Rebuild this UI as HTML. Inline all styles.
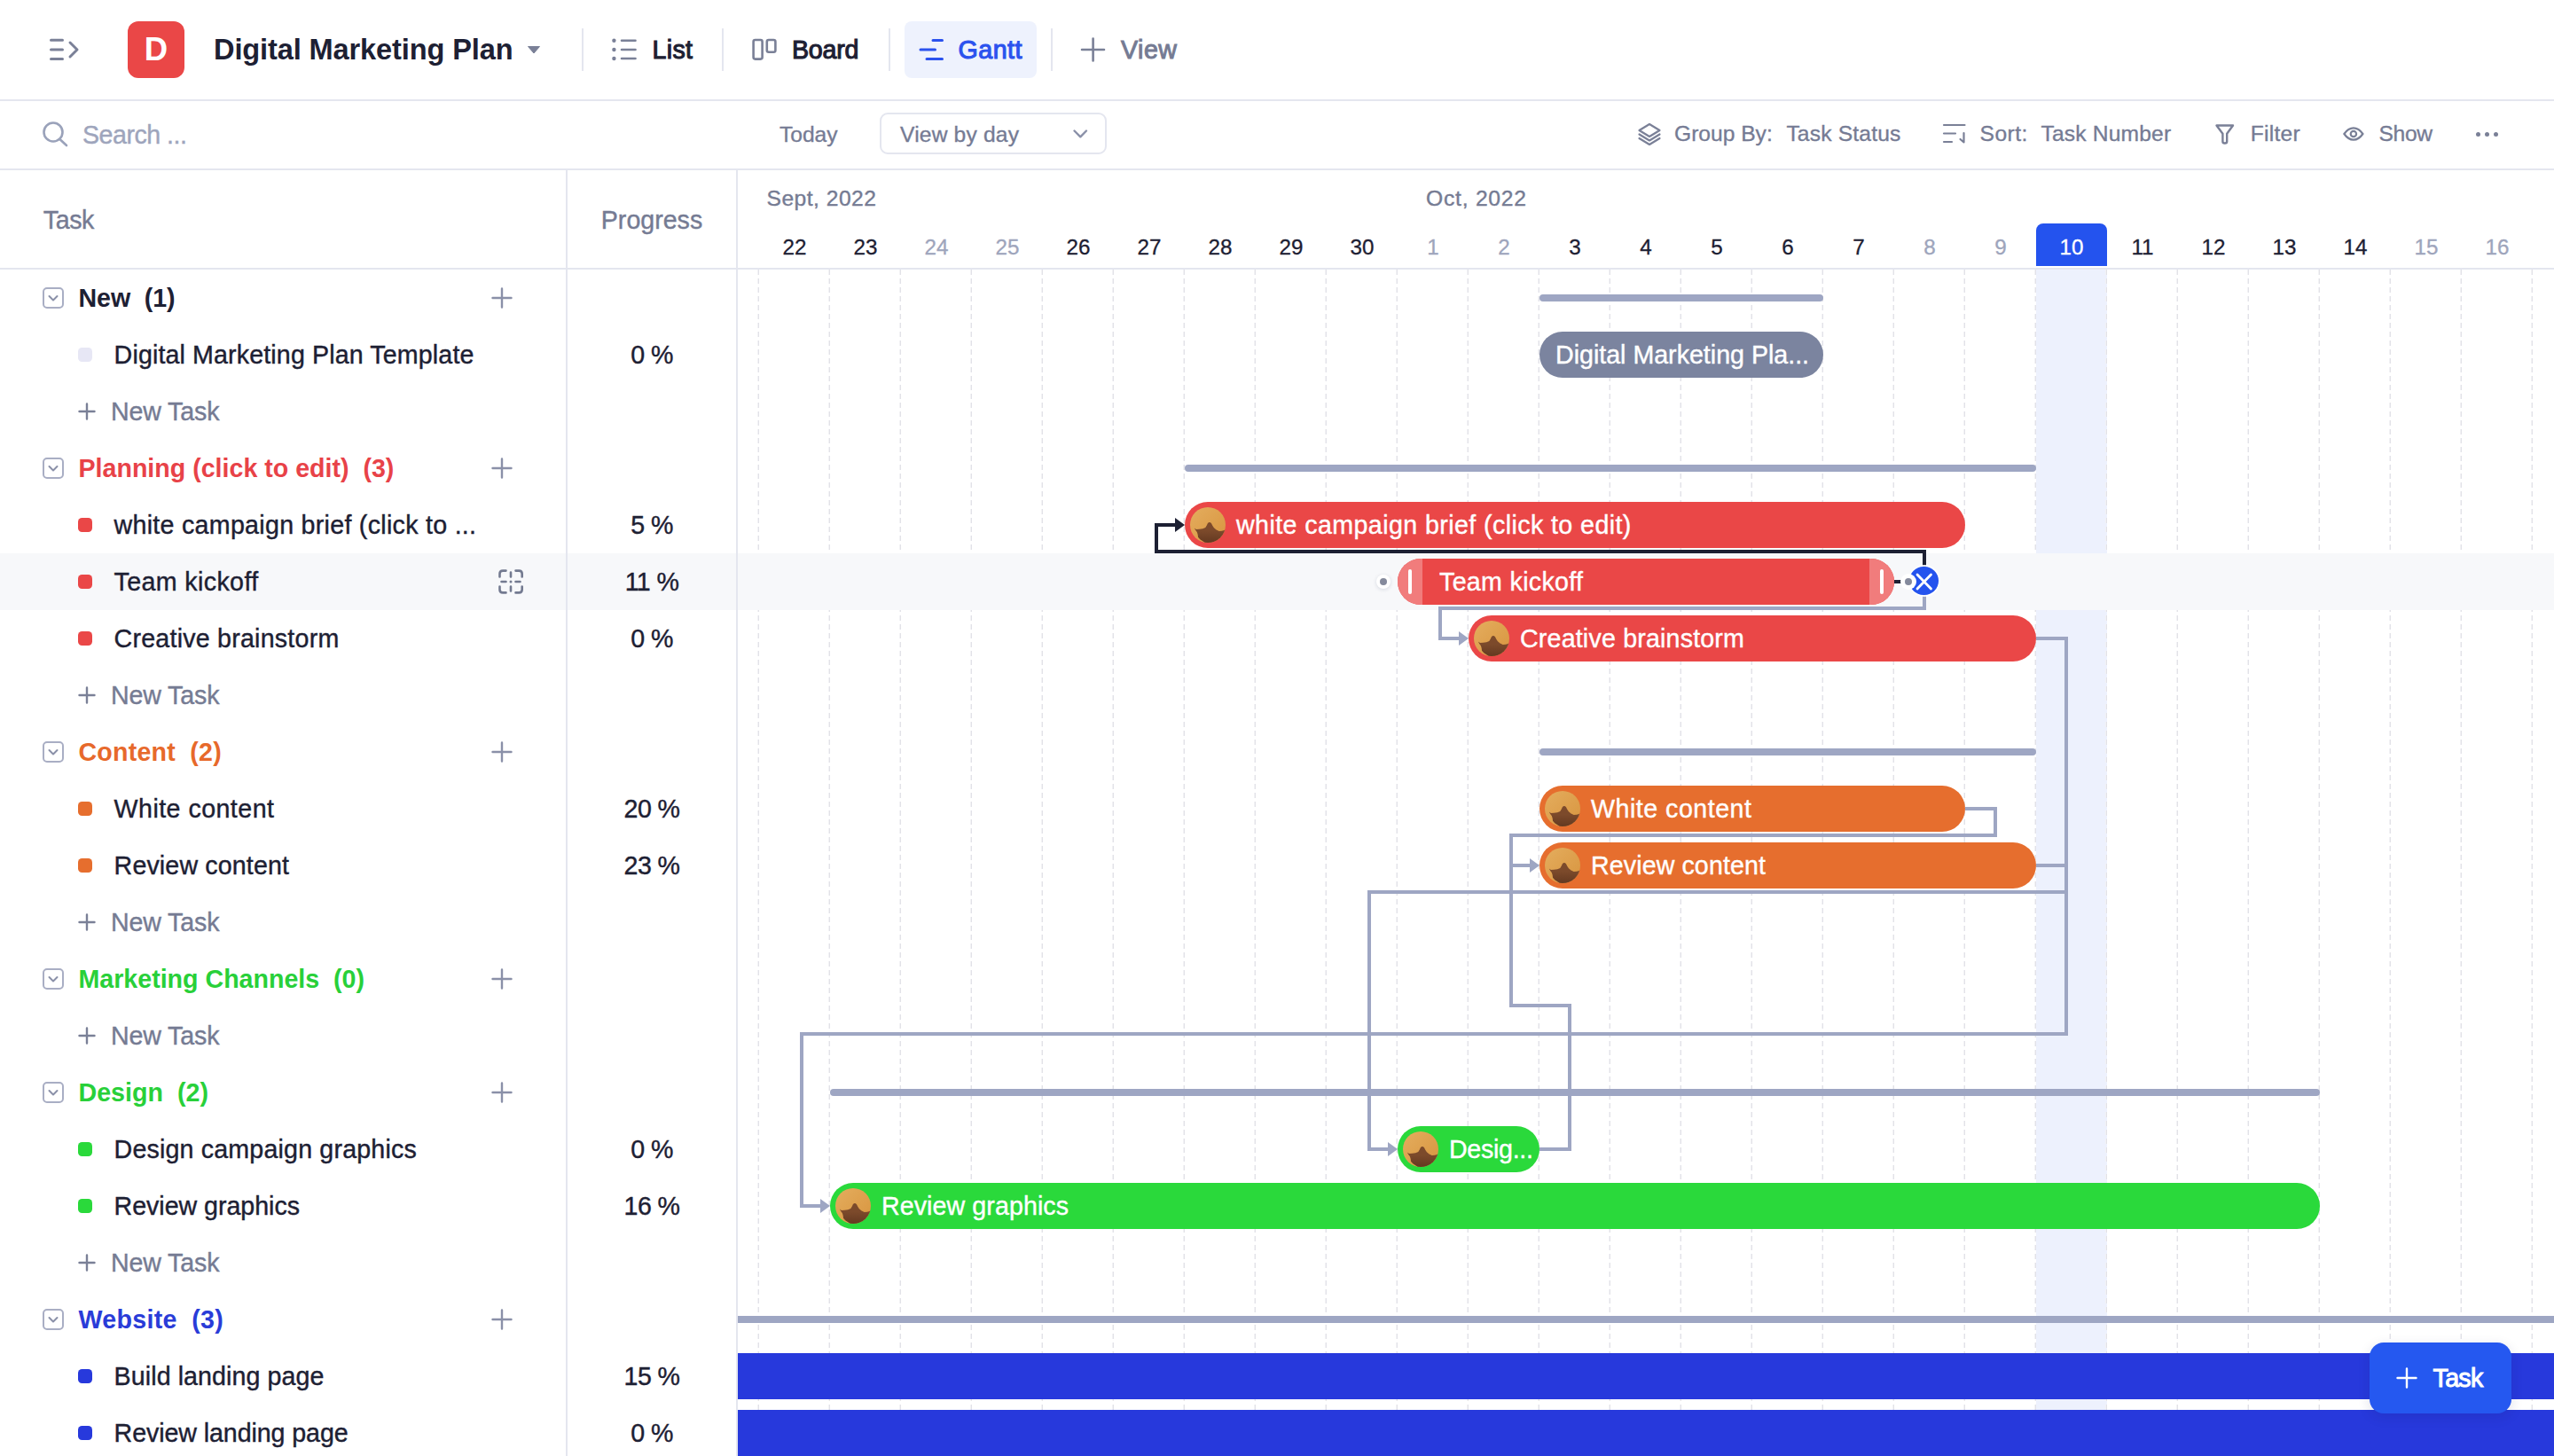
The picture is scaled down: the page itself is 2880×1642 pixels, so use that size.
<!DOCTYPE html>
<html lang="en"><head><meta charset="utf-8"><title>Digital Marketing Plan - Gantt</title>
<style>
html,body{margin:0;padding:0;background:#fff}
body{width:2880px;height:1642px;position:relative;overflow:hidden;font-family:"Liberation Sans",Arial,sans-serif}
.b{position:absolute;display:block}
.t{position:absolute;white-space:nowrap;display:block}
</style></head><body>
<svg width="0" height="0" style="position:absolute"><defs><linearGradient id="ga" x1="0" y1="0" x2="1" y2="1"><stop offset="0" stop-color="#e4ad5e"/><stop offset="1" stop-color="#d8953f"/></linearGradient><linearGradient id="gb" x1="0" y1="0" x2="0" y2="1"><stop offset="0.4" stop-color="#7c4a2b"/><stop offset="1" stop-color="#623820"/></linearGradient></defs></svg>
<!-- grid -->
<div class="b" style="left:2296px;top:304px;width:80px;height:1338px;background:#edf1fd"></div>
<div class="b" style="left:854px;top:304px;width:2080px;height:1338px;background:repeating-linear-gradient(to bottom,#f2f2f5 0,#f2f2f5 6px,transparent 6px,transparent 10px);-webkit-mask:repeating-linear-gradient(to right,#000 0,#000 1px,transparent 1px,transparent 80px);mask:repeating-linear-gradient(to right,#000 0,#000 1px,transparent 1px,transparent 80px)"></div>
<div class="b" style="left:855px;top:304px;width:2080px;height:1338px;background:repeating-linear-gradient(to bottom,#e2e2e8 0,#e2e2e8 6px,transparent 6px,transparent 10px);-webkit-mask:repeating-linear-gradient(to right,#000 0,#000 1px,transparent 1px,transparent 80px);mask:repeating-linear-gradient(to right,#000 0,#000 1px,transparent 1px,transparent 80px)"></div>
<div class="b" style="left:0px;top:624px;width:2880px;height:64px;background:#f7f8fa"></div>
<div class="b" style="left:638px;top:624px;width:2px;height:64px;background:#e4e6ef"></div>
<div class="b" style="left:830px;top:624px;width:2px;height:64px;background:#e4e6ef"></div>
<div class="b" style="left:2296px;top:252px;width:80px;height:48px;background:#2453ee;border-radius:8px 8px 0 0"></div>
<span id="t20" class="t" style="left:896px;top:262.8px;font-size:24.2px;line-height:32.2px;color:#1d2033;font-weight:400;transform:translateX(-50%);-webkit-text-stroke:0.3px #1d2033;">22</span>
<span id="t21" class="t" style="left:976px;top:262.8px;font-size:24.2px;line-height:32.2px;color:#1d2033;font-weight:400;transform:translateX(-50%);-webkit-text-stroke:0.3px #1d2033;">23</span>
<span id="t22" class="t" style="left:1056px;top:262.8px;font-size:24.2px;line-height:32.2px;color:#9ea5bc;font-weight:400;transform:translateX(-50%);-webkit-text-stroke:0.3px #9ea5bc;">24</span>
<span id="t23" class="t" style="left:1136px;top:262.8px;font-size:24.2px;line-height:32.2px;color:#9ea5bc;font-weight:400;transform:translateX(-50%);-webkit-text-stroke:0.3px #9ea5bc;">25</span>
<span id="t24" class="t" style="left:1216px;top:262.8px;font-size:24.2px;line-height:32.2px;color:#1d2033;font-weight:400;transform:translateX(-50%);-webkit-text-stroke:0.3px #1d2033;">26</span>
<span id="t25" class="t" style="left:1296px;top:262.8px;font-size:24.2px;line-height:32.2px;color:#1d2033;font-weight:400;transform:translateX(-50%);-webkit-text-stroke:0.3px #1d2033;">27</span>
<span id="t26" class="t" style="left:1376px;top:262.8px;font-size:24.2px;line-height:32.2px;color:#1d2033;font-weight:400;transform:translateX(-50%);-webkit-text-stroke:0.3px #1d2033;">28</span>
<span id="t27" class="t" style="left:1456px;top:262.8px;font-size:24.2px;line-height:32.2px;color:#1d2033;font-weight:400;transform:translateX(-50%);-webkit-text-stroke:0.3px #1d2033;">29</span>
<span id="t28" class="t" style="left:1536px;top:262.8px;font-size:24.2px;line-height:32.2px;color:#1d2033;font-weight:400;transform:translateX(-50%);-webkit-text-stroke:0.3px #1d2033;">30</span>
<span id="t29" class="t" style="left:1616px;top:262.8px;font-size:24.2px;line-height:32.2px;color:#9ea5bc;font-weight:400;transform:translateX(-50%);-webkit-text-stroke:0.3px #9ea5bc;">1</span>
<span id="t30" class="t" style="left:1696px;top:262.8px;font-size:24.2px;line-height:32.2px;color:#9ea5bc;font-weight:400;transform:translateX(-50%);-webkit-text-stroke:0.3px #9ea5bc;">2</span>
<span id="t31" class="t" style="left:1776px;top:262.8px;font-size:24.2px;line-height:32.2px;color:#1d2033;font-weight:400;transform:translateX(-50%);-webkit-text-stroke:0.3px #1d2033;">3</span>
<span id="t32" class="t" style="left:1856px;top:262.8px;font-size:24.2px;line-height:32.2px;color:#1d2033;font-weight:400;transform:translateX(-50%);-webkit-text-stroke:0.3px #1d2033;">4</span>
<span id="t33" class="t" style="left:1936px;top:262.8px;font-size:24.2px;line-height:32.2px;color:#1d2033;font-weight:400;transform:translateX(-50%);-webkit-text-stroke:0.3px #1d2033;">5</span>
<span id="t34" class="t" style="left:2016px;top:262.8px;font-size:24.2px;line-height:32.2px;color:#1d2033;font-weight:400;transform:translateX(-50%);-webkit-text-stroke:0.3px #1d2033;">6</span>
<span id="t35" class="t" style="left:2096px;top:262.8px;font-size:24.2px;line-height:32.2px;color:#1d2033;font-weight:400;transform:translateX(-50%);-webkit-text-stroke:0.3px #1d2033;">7</span>
<span id="t36" class="t" style="left:2176px;top:262.8px;font-size:24.2px;line-height:32.2px;color:#9ea5bc;font-weight:400;transform:translateX(-50%);-webkit-text-stroke:0.3px #9ea5bc;">8</span>
<span id="t37" class="t" style="left:2256px;top:262.8px;font-size:24.2px;line-height:32.2px;color:#9ea5bc;font-weight:400;transform:translateX(-50%);-webkit-text-stroke:0.3px #9ea5bc;">9</span>
<span id="t38" class="t" style="left:2336px;top:262.8px;font-size:24.2px;line-height:32.2px;color:#fff;font-weight:400;transform:translateX(-50%);-webkit-text-stroke:0.3px #fff;">10</span>
<span id="t39" class="t" style="left:2416px;top:262.8px;font-size:24.2px;line-height:32.2px;color:#1d2033;font-weight:400;transform:translateX(-50%);-webkit-text-stroke:0.3px #1d2033;">11</span>
<span id="t40" class="t" style="left:2496px;top:262.8px;font-size:24.2px;line-height:32.2px;color:#1d2033;font-weight:400;transform:translateX(-50%);-webkit-text-stroke:0.3px #1d2033;">12</span>
<span id="t41" class="t" style="left:2576px;top:262.8px;font-size:24.2px;line-height:32.2px;color:#1d2033;font-weight:400;transform:translateX(-50%);-webkit-text-stroke:0.3px #1d2033;">13</span>
<span id="t42" class="t" style="left:2656px;top:262.8px;font-size:24.2px;line-height:32.2px;color:#1d2033;font-weight:400;transform:translateX(-50%);-webkit-text-stroke:0.3px #1d2033;">14</span>
<span id="t43" class="t" style="left:2736px;top:262.8px;font-size:24.2px;line-height:32.2px;color:#9ea5bc;font-weight:400;transform:translateX(-50%);-webkit-text-stroke:0.3px #9ea5bc;">15</span>
<span id="t44" class="t" style="left:2816px;top:262.8px;font-size:24.2px;line-height:32.2px;color:#9ea5bc;font-weight:400;transform:translateX(-50%);-webkit-text-stroke:0.3px #9ea5bc;">16</span>
<!-- left rows -->
<svg class="b" style="left:47px;top:323px" width="26" height="26" viewBox="0 0 26 26" fill="none" stroke="#a9aec4" stroke-width="2" stroke-linecap="round" stroke-linejoin="round"><rect x="2" y="2" width="22" height="22" rx="4"/><path d="M8.5 11L13 15.5L17.5 11" stroke="#8a90a8"/></svg>
<span id="t45" class="t" style="left:88.5px;top:318.3px;font-size:28.6px;line-height:36.6px;color:#1d2033;font-weight:700;letter-spacing:-0.08px;">New&nbsp;&nbsp;(1)</span>
<svg class="b" style="left:554px;top:324px" width="24" height="24" viewBox="0 0 24 24" fill="none" stroke="#8a90a8" stroke-width="2.4" stroke-linecap="round"><path d="M12 1.5V22.5M1.5 12H22.5"/></svg>
<div class="b" style="left:88px;top:392px;width:16px;height:16px;background:#e7e7f5;border-radius:4.5px"></div>
<span id="t46" class="t" style="left:128.6px;top:382.3px;font-size:28.6px;line-height:36.6px;color:#1d2033;font-weight:400;letter-spacing:0.14px;-webkit-text-stroke:0.4px #1d2033;">Digital Marketing Plan Template</span>
<span id="t47" class="t" style="left:735px;top:382.3px;font-size:28.6px;line-height:36.6px;color:#1d2033;font-weight:400;transform:translateX(-50%);-webkit-text-stroke:0.4px #1d2033;letter-spacing:-0.6px;">0 %</span>
<svg class="b" style="left:88px;top:454px" width="20" height="20" viewBox="0 0 20 20" fill="none" stroke="#7a8097" stroke-width="2.4" stroke-linecap="round"><path d="M10 1.5V18.5M1.5 10H18.5"/></svg>
<span id="t48" class="t" style="left:125px;top:446.3px;font-size:28.6px;line-height:36.6px;color:#757b93;font-weight:400;letter-spacing:-0.13px;-webkit-text-stroke:0.4px #757b93;">New Task</span>
<svg class="b" style="left:47px;top:515px" width="26" height="26" viewBox="0 0 26 26" fill="none" stroke="#a9aec4" stroke-width="2" stroke-linecap="round" stroke-linejoin="round"><rect x="2" y="2" width="22" height="22" rx="4"/><path d="M8.5 11L13 15.5L17.5 11" stroke="#8a90a8"/></svg>
<span id="t49" class="t" style="left:88.5px;top:510.3px;font-size:28.6px;line-height:36.6px;color:#e84248;font-weight:700;">Planning (click to edit)&nbsp;&nbsp;(3)</span>
<svg class="b" style="left:554px;top:516px" width="24" height="24" viewBox="0 0 24 24" fill="none" stroke="#8a90a8" stroke-width="2.4" stroke-linecap="round"><path d="M12 1.5V22.5M1.5 12H22.5"/></svg>
<div class="b" style="left:88px;top:584px;width:16px;height:16px;background:#ea4747;border-radius:4.5px"></div>
<span id="t50" class="t" style="left:128.6px;top:574.3px;font-size:28.6px;line-height:36.6px;color:#1d2033;font-weight:400;letter-spacing:0.29px;-webkit-text-stroke:0.4px #1d2033;">white campaign brief (click to ...</span>
<span id="t51" class="t" style="left:735px;top:574.3px;font-size:28.6px;line-height:36.6px;color:#1d2033;font-weight:400;transform:translateX(-50%);-webkit-text-stroke:0.4px #1d2033;letter-spacing:-0.6px;">5 %</span>
<div class="b" style="left:88px;top:648px;width:16px;height:16px;background:#ea4747;border-radius:4.5px"></div>
<span id="t52" class="t" style="left:128.6px;top:638.3px;font-size:28.6px;line-height:36.6px;color:#1d2033;font-weight:400;letter-spacing:0.38px;-webkit-text-stroke:0.4px #1d2033;">Team kickoff</span>
<span id="t53" class="t" style="left:735px;top:638.3px;font-size:28.6px;line-height:36.6px;color:#1d2033;font-weight:400;transform:translateX(-50%);-webkit-text-stroke:0.4px #1d2033;letter-spacing:-0.6px;">11 %</span>
<div class="b" style="left:88px;top:712px;width:16px;height:16px;background:#ea4747;border-radius:4.5px"></div>
<span id="t54" class="t" style="left:128.6px;top:702.3px;font-size:28.6px;line-height:36.6px;color:#1d2033;font-weight:400;letter-spacing:0.23px;-webkit-text-stroke:0.4px #1d2033;">Creative brainstorm</span>
<span id="t55" class="t" style="left:735px;top:702.3px;font-size:28.6px;line-height:36.6px;color:#1d2033;font-weight:400;transform:translateX(-50%);-webkit-text-stroke:0.4px #1d2033;letter-spacing:-0.6px;">0 %</span>
<svg class="b" style="left:88px;top:774px" width="20" height="20" viewBox="0 0 20 20" fill="none" stroke="#7a8097" stroke-width="2.4" stroke-linecap="round"><path d="M10 1.5V18.5M1.5 10H18.5"/></svg>
<span id="t56" class="t" style="left:125px;top:766.3px;font-size:28.6px;line-height:36.6px;color:#757b93;font-weight:400;letter-spacing:-0.13px;-webkit-text-stroke:0.4px #757b93;">New Task</span>
<svg class="b" style="left:47px;top:835px" width="26" height="26" viewBox="0 0 26 26" fill="none" stroke="#a9aec4" stroke-width="2" stroke-linecap="round" stroke-linejoin="round"><rect x="2" y="2" width="22" height="22" rx="4"/><path d="M8.5 11L13 15.5L17.5 11" stroke="#8a90a8"/></svg>
<span id="t57" class="t" style="left:88.5px;top:830.3px;font-size:28.6px;line-height:36.6px;color:#e7692b;font-weight:700;letter-spacing:0.22px;">Content&nbsp;&nbsp;(2)</span>
<svg class="b" style="left:554px;top:836px" width="24" height="24" viewBox="0 0 24 24" fill="none" stroke="#8a90a8" stroke-width="2.4" stroke-linecap="round"><path d="M12 1.5V22.5M1.5 12H22.5"/></svg>
<div class="b" style="left:88px;top:904px;width:16px;height:16px;background:#e66e2e;border-radius:4.5px"></div>
<span id="t58" class="t" style="left:128.6px;top:894.3px;font-size:28.6px;line-height:36.6px;color:#1d2033;font-weight:400;letter-spacing:0.46px;-webkit-text-stroke:0.4px #1d2033;">White content</span>
<span id="t59" class="t" style="left:735px;top:894.3px;font-size:28.6px;line-height:36.6px;color:#1d2033;font-weight:400;transform:translateX(-50%);-webkit-text-stroke:0.4px #1d2033;letter-spacing:-0.6px;">20 %</span>
<div class="b" style="left:88px;top:968px;width:16px;height:16px;background:#e66e2e;border-radius:4.5px"></div>
<span id="t60" class="t" style="left:128.6px;top:958.3px;font-size:28.6px;line-height:36.6px;color:#1d2033;font-weight:400;letter-spacing:0.14px;-webkit-text-stroke:0.4px #1d2033;">Review content</span>
<span id="t61" class="t" style="left:735px;top:958.3px;font-size:28.6px;line-height:36.6px;color:#1d2033;font-weight:400;transform:translateX(-50%);-webkit-text-stroke:0.4px #1d2033;letter-spacing:-0.6px;">23 %</span>
<svg class="b" style="left:88px;top:1030px" width="20" height="20" viewBox="0 0 20 20" fill="none" stroke="#7a8097" stroke-width="2.4" stroke-linecap="round"><path d="M10 1.5V18.5M1.5 10H18.5"/></svg>
<span id="t62" class="t" style="left:125px;top:1022.3px;font-size:28.6px;line-height:36.6px;color:#757b93;font-weight:400;letter-spacing:-0.13px;-webkit-text-stroke:0.4px #757b93;">New Task</span>
<svg class="b" style="left:47px;top:1091px" width="26" height="26" viewBox="0 0 26 26" fill="none" stroke="#a9aec4" stroke-width="2" stroke-linecap="round" stroke-linejoin="round"><rect x="2" y="2" width="22" height="22" rx="4"/><path d="M8.5 11L13 15.5L17.5 11" stroke="#8a90a8"/></svg>
<span id="t63" class="t" style="left:88.5px;top:1086.3px;font-size:28.6px;line-height:36.6px;color:#28d039;font-weight:700;">Marketing Channels&nbsp;&nbsp;(0)</span>
<svg class="b" style="left:554px;top:1092px" width="24" height="24" viewBox="0 0 24 24" fill="none" stroke="#8a90a8" stroke-width="2.4" stroke-linecap="round"><path d="M12 1.5V22.5M1.5 12H22.5"/></svg>
<svg class="b" style="left:88px;top:1158px" width="20" height="20" viewBox="0 0 20 20" fill="none" stroke="#7a8097" stroke-width="2.4" stroke-linecap="round"><path d="M10 1.5V18.5M1.5 10H18.5"/></svg>
<span id="t64" class="t" style="left:125px;top:1150.3px;font-size:28.6px;line-height:36.6px;color:#757b93;font-weight:400;letter-spacing:-0.13px;-webkit-text-stroke:0.4px #757b93;">New Task</span>
<svg class="b" style="left:47px;top:1219px" width="26" height="26" viewBox="0 0 26 26" fill="none" stroke="#a9aec4" stroke-width="2" stroke-linecap="round" stroke-linejoin="round"><rect x="2" y="2" width="22" height="22" rx="4"/><path d="M8.5 11L13 15.5L17.5 11" stroke="#8a90a8"/></svg>
<span id="t65" class="t" style="left:88.5px;top:1214.3px;font-size:28.6px;line-height:36.6px;color:#28d039;font-weight:700;letter-spacing:0.03px;">Design&nbsp;&nbsp;(2)</span>
<svg class="b" style="left:554px;top:1220px" width="24" height="24" viewBox="0 0 24 24" fill="none" stroke="#8a90a8" stroke-width="2.4" stroke-linecap="round"><path d="M12 1.5V22.5M1.5 12H22.5"/></svg>
<div class="b" style="left:88px;top:1288px;width:16px;height:16px;background:#2ad93b;border-radius:4.5px"></div>
<span id="t66" class="t" style="left:128.6px;top:1278.3px;font-size:28.6px;line-height:36.6px;color:#1d2033;font-weight:400;letter-spacing:0.18px;-webkit-text-stroke:0.4px #1d2033;">Design campaign graphics</span>
<span id="t67" class="t" style="left:735px;top:1278.3px;font-size:28.6px;line-height:36.6px;color:#1d2033;font-weight:400;transform:translateX(-50%);-webkit-text-stroke:0.4px #1d2033;letter-spacing:-0.6px;">0 %</span>
<div class="b" style="left:88px;top:1352px;width:16px;height:16px;background:#2ad93b;border-radius:4.5px"></div>
<span id="t68" class="t" style="left:128.6px;top:1342.3px;font-size:28.6px;line-height:36.6px;color:#1d2033;font-weight:400;letter-spacing:-0.03px;-webkit-text-stroke:0.4px #1d2033;">Review graphics</span>
<span id="t69" class="t" style="left:735px;top:1342.3px;font-size:28.6px;line-height:36.6px;color:#1d2033;font-weight:400;transform:translateX(-50%);-webkit-text-stroke:0.4px #1d2033;letter-spacing:-0.6px;">16 %</span>
<svg class="b" style="left:88px;top:1414px" width="20" height="20" viewBox="0 0 20 20" fill="none" stroke="#7a8097" stroke-width="2.4" stroke-linecap="round"><path d="M10 1.5V18.5M1.5 10H18.5"/></svg>
<span id="t70" class="t" style="left:125px;top:1406.3px;font-size:28.6px;line-height:36.6px;color:#757b93;font-weight:400;letter-spacing:-0.13px;-webkit-text-stroke:0.4px #757b93;">New Task</span>
<svg class="b" style="left:47px;top:1475px" width="26" height="26" viewBox="0 0 26 26" fill="none" stroke="#a9aec4" stroke-width="2" stroke-linecap="round" stroke-linejoin="round"><rect x="2" y="2" width="22" height="22" rx="4"/><path d="M8.5 11L13 15.5L17.5 11" stroke="#8a90a8"/></svg>
<span id="t71" class="t" style="left:88.5px;top:1470.3px;font-size:28.6px;line-height:36.6px;color:#2a3cd8;font-weight:700;letter-spacing:0.31px;">Website&nbsp;&nbsp;(3)</span>
<svg class="b" style="left:554px;top:1476px" width="24" height="24" viewBox="0 0 24 24" fill="none" stroke="#8a90a8" stroke-width="2.4" stroke-linecap="round"><path d="M12 1.5V22.5M1.5 12H22.5"/></svg>
<div class="b" style="left:88px;top:1544px;width:16px;height:16px;background:#2739dc;border-radius:4.5px"></div>
<span id="t72" class="t" style="left:128.6px;top:1534.3px;font-size:28.6px;line-height:36.6px;color:#1d2033;font-weight:400;letter-spacing:0.09px;-webkit-text-stroke:0.4px #1d2033;">Build landing page</span>
<span id="t73" class="t" style="left:735px;top:1534.3px;font-size:28.6px;line-height:36.6px;color:#1d2033;font-weight:400;transform:translateX(-50%);-webkit-text-stroke:0.4px #1d2033;letter-spacing:-0.6px;">15 %</span>
<div class="b" style="left:88px;top:1608px;width:16px;height:16px;background:#2739dc;border-radius:4.5px"></div>
<span id="t74" class="t" style="left:128.6px;top:1598.3px;font-size:28.6px;line-height:36.6px;color:#1d2033;font-weight:400;letter-spacing:-0.08px;-webkit-text-stroke:0.4px #1d2033;">Review landing page</span>
<span id="t75" class="t" style="left:735px;top:1598.3px;font-size:28.6px;line-height:36.6px;color:#1d2033;font-weight:400;transform:translateX(-50%);-webkit-text-stroke:0.4px #1d2033;letter-spacing:-0.6px;">0 %</span>
<svg class="b" style="left:560px;top:640px" width="32" height="32" viewBox="560 640 32 32" fill="none" stroke="#737a90" stroke-width="2.6" stroke-linecap="round" stroke-linejoin="round"><path d="M563.5 650.5V647Q563.5 643.6 567 643.6H570.5M581.5 643.6H585.2Q588.7 643.6 588.7 647V650.5M588.7 661.5V665Q588.7 668.4 585.2 668.4H581.5M570.5 668.4H567Q563.5 668.4 563.5 665V661.5M576 645.5V650.5M576 661.5V666.5M565.5 656H570.5M581.5 656H586.5"/><circle cx="576" cy="656" r="1.5" fill="#737a90" stroke="none"/></svg>
<!-- gantt -->
<div class="b" style="left:1736px;top:332px;width:320px;height:8px;background:#9ea6c3;border-radius:4px"></div>
<div class="b" style="left:1336px;top:524px;width:960px;height:8px;background:#9ea6c3;border-radius:4px"></div>
<div class="b" style="left:1736px;top:844px;width:560px;height:8px;background:#9ea6c3;border-radius:4px"></div>
<div class="b" style="left:936px;top:1228px;width:1680px;height:8px;background:#9ea6c3;border-radius:4px"></div>
<div class="b" style="left:832px;top:1484px;width:2048px;height:8px;background:#9ea6c3"></div>
<svg class="b" style="left:832px;top:304px" width="2048" height="1338" viewBox="832 304 2048 1338">
<polyline points="2170,640 2170,622 1304,622 1304,592 1326,592" fill="none" stroke="#1d2033" stroke-width="4" stroke-linejoin="miter"/>
<path d="M1336 592L1325 584V600Z" fill="#1d2033"/>
<polyline points="2170,670 2170,686 1624,686 1624,720 1646,720" fill="none" stroke="#9ea6c3" stroke-width="4" stroke-linejoin="miter"/>
<path d="M1656 720L1645 712V728Z" fill="#9ea6c3"/>
<polyline points="2296,720 2330,720 2330,1166 904,1166 904,1360 926,1360" fill="none" stroke="#9ea6c3" stroke-width="4" stroke-linejoin="miter"/>
<path d="M936 1360L925 1352V1368Z" fill="#9ea6c3"/>
<polyline points="2296,976 2330,976" fill="none" stroke="#9ea6c3" stroke-width="4" stroke-linejoin="miter"/>
<polyline points="2330,1006 1544,1006 1544,1296 1566,1296" fill="none" stroke="#9ea6c3" stroke-width="4" stroke-linejoin="miter"/>
<path d="M1576 1296L1565 1288V1304Z" fill="#9ea6c3"/>
<polyline points="2216,912 2250,912 2250,942 1704,942 1704,976 1726,976" fill="none" stroke="#9ea6c3" stroke-width="4" stroke-linejoin="miter"/>
<path d="M1736 976L1725 968V984Z" fill="#9ea6c3"/>
<polyline points="1736,1296 1770,1296 1770,1134 1704,1134 1704,976" fill="none" stroke="#9ea6c3" stroke-width="4" stroke-linejoin="miter"/>
</svg>
<div class="b" style="left:1736px;top:374px;width:320px;height:52px;background:#7b849f;border-radius:26px"></div>
<span id="t76" class="t" style="left:1754px;top:382.3px;font-size:28.6px;line-height:36.6px;color:#fff;font-weight:400;-webkit-text-stroke:0.4px #fff;">Digital Marketing Pla...</span>
<div class="b" style="left:1336px;top:566px;width:880px;height:52px;background:#ea4747;border-radius:26px"></div>
<svg class="b" style="left:1342px;top:572px" width="40" height="40" viewBox="0 0 40 40"><defs><clipPath id="c1"><circle cx="20" cy="20" r="20"/></clipPath></defs><g clip-path="url(#c1)"><rect width="40" height="40" fill="url(#ga)"/><path d="M4.8 23.5L6.9 25L10.4 24.8L14.2 24.2L17.3 22.9L18.8 20.6L19.8 18.3Q21.9 15.6 24 18.3L25.4 21L26.9 23.3L29.6 25.6L32.7 26.9L35.8 26.7L38.5 26L41 24.5V41H18L15 38.7L11.2 36.3L9 33.7L8.7 31L7.9 28.3L6.2 26Z" fill="url(#gb)"/></g></svg>
<span id="t77" class="t" style="left:1394px;top:574.3px;font-size:28.6px;line-height:36.6px;color:#fff;font-weight:400;letter-spacing:0.42px;-webkit-text-stroke:0.4px #fff;">white campaign brief (click to edit)</span>
<div class="b" style="left:1576px;top:630px;width:560px;height:52px;background:#ea4747;border-radius:26px;overflow:hidden"></div>
<div class="b" style="left:1576px;top:630px;width:28px;height:52px;background:#f17c7c;border-radius:26px 0 0 26px"></div>
<div class="b" style="left:2108px;top:630px;width:28px;height:52px;background:#f17c7c;border-radius:0 26px 26px 0"></div>
<div class="b" style="left:1588px;top:642px;width:4px;height:28px;background:#fff;border-radius:2px"></div>
<div class="b" style="left:2120px;top:642px;width:4px;height:28px;background:#fff;border-radius:2px"></div>
<span id="t78" class="t" style="left:1623px;top:638.3px;font-size:28.6px;line-height:36.6px;color:#fff;font-weight:400;letter-spacing:0.33px;-webkit-text-stroke:0.4px #fff;">Team kickoff</span>
<div class="b" style="left:1552px;top:648px;width:16px;height:16px;background:#fff;border-radius:50%;box-shadow:0 1px 4px rgba(30,40,80,.15)"></div>
<div class="b" style="left:1556px;top:652px;width:8px;height:8px;background:#858a9c;border-radius:50%"></div>
<div class="b" style="left:2136px;top:654px;width:8px;height:4px;background:#1d2033"></div>
<div class="b" style="left:2151.5px;top:637px;width:36px;height:36px;background:#fff;border-radius:50%;opacity:.9"></div>
<div class="b" style="left:2153.2px;top:638.7px;width:32.6px;height:32.6px;background:#2453ee;border-radius:50%"></div>
<div class="b" style="left:2143px;top:647px;width:18px;height:18px;background:#fff;border-radius:50%"></div>
<div class="b" style="left:2148px;top:652px;width:8px;height:8px;background:#858a9c;border-radius:50%"></div>
<svg class="b" style="left:2158px;top:644px" width="24" height="24" viewBox="2158 644 24 24" fill="none" stroke="#fff" stroke-width="2.8" stroke-linecap="round"><path d="M2162 648L2177.5 664M2177.5 648L2162 664"/></svg>
<div class="b" style="left:1656px;top:694px;width:640px;height:52px;background:#ea4747;border-radius:26px"></div>
<svg class="b" style="left:1662px;top:700px" width="40" height="40" viewBox="0 0 40 40"><defs><clipPath id="c2"><circle cx="20" cy="20" r="20"/></clipPath></defs><g clip-path="url(#c2)"><rect width="40" height="40" fill="url(#ga)"/><path d="M4.8 23.5L6.9 25L10.4 24.8L14.2 24.2L17.3 22.9L18.8 20.6L19.8 18.3Q21.9 15.6 24 18.3L25.4 21L26.9 23.3L29.6 25.6L32.7 26.9L35.8 26.7L38.5 26L41 24.5V41H18L15 38.7L11.2 36.3L9 33.7L8.7 31L7.9 28.3L6.2 26Z" fill="url(#gb)"/></g></svg>
<span id="t79" class="t" style="left:1714px;top:702.3px;font-size:28.6px;line-height:36.6px;color:#fff;font-weight:400;letter-spacing:0.19px;-webkit-text-stroke:0.4px #fff;">Creative brainstorm</span>
<div class="b" style="left:1736px;top:886px;width:480px;height:52px;background:#e66e2e;border-radius:26px"></div>
<svg class="b" style="left:1742px;top:892px" width="40" height="40" viewBox="0 0 40 40"><defs><clipPath id="c3"><circle cx="20" cy="20" r="20"/></clipPath></defs><g clip-path="url(#c3)"><rect width="40" height="40" fill="url(#ga)"/><path d="M4.8 23.5L6.9 25L10.4 24.8L14.2 24.2L17.3 22.9L18.8 20.6L19.8 18.3Q21.9 15.6 24 18.3L25.4 21L26.9 23.3L29.6 25.6L32.7 26.9L35.8 26.7L38.5 26L41 24.5V41H18L15 38.7L11.2 36.3L9 33.7L8.7 31L7.9 28.3L6.2 26Z" fill="url(#gb)"/></g></svg>
<span id="t80" class="t" style="left:1794px;top:894.3px;font-size:28.6px;line-height:36.6px;color:#fff;font-weight:400;letter-spacing:0.51px;-webkit-text-stroke:0.4px #fff;">White content</span>
<div class="b" style="left:1736px;top:950px;width:560px;height:52px;background:#e66e2e;border-radius:26px"></div>
<svg class="b" style="left:1742px;top:956px" width="40" height="40" viewBox="0 0 40 40"><defs><clipPath id="c4"><circle cx="20" cy="20" r="20"/></clipPath></defs><g clip-path="url(#c4)"><rect width="40" height="40" fill="url(#ga)"/><path d="M4.8 23.5L6.9 25L10.4 24.8L14.2 24.2L17.3 22.9L18.8 20.6L19.8 18.3Q21.9 15.6 24 18.3L25.4 21L26.9 23.3L29.6 25.6L32.7 26.9L35.8 26.7L38.5 26L41 24.5V41H18L15 38.7L11.2 36.3L9 33.7L8.7 31L7.9 28.3L6.2 26Z" fill="url(#gb)"/></g></svg>
<span id="t81" class="t" style="left:1794px;top:958.3px;font-size:28.6px;line-height:36.6px;color:#fff;font-weight:400;letter-spacing:0.11px;-webkit-text-stroke:0.4px #fff;">Review content</span>
<div class="b" style="left:1576px;top:1270px;width:160px;height:52px;background:#2ad93b;border-radius:26px"></div>
<svg class="b" style="left:1582px;top:1276px" width="40" height="40" viewBox="0 0 40 40"><defs><clipPath id="c5"><circle cx="20" cy="20" r="20"/></clipPath></defs><g clip-path="url(#c5)"><rect width="40" height="40" fill="url(#ga)"/><path d="M4.8 23.5L6.9 25L10.4 24.8L14.2 24.2L17.3 22.9L18.8 20.6L19.8 18.3Q21.9 15.6 24 18.3L25.4 21L26.9 23.3L29.6 25.6L32.7 26.9L35.8 26.7L38.5 26L41 24.5V41H18L15 38.7L11.2 36.3L9 33.7L8.7 31L7.9 28.3L6.2 26Z" fill="url(#gb)"/></g></svg>
<span id="t82" class="t" style="left:1634px;top:1278.3px;font-size:28.6px;line-height:36.6px;color:#fff;font-weight:400;letter-spacing:-0.28px;-webkit-text-stroke:0.4px #fff;">Desig...</span>
<div class="b" style="left:936px;top:1334px;width:1680px;height:52px;background:#2ad93b;border-radius:26px"></div>
<svg class="b" style="left:942px;top:1340px" width="40" height="40" viewBox="0 0 40 40"><defs><clipPath id="c6"><circle cx="20" cy="20" r="20"/></clipPath></defs><g clip-path="url(#c6)"><rect width="40" height="40" fill="url(#ga)"/><path d="M4.8 23.5L6.9 25L10.4 24.8L14.2 24.2L17.3 22.9L18.8 20.6L19.8 18.3Q21.9 15.6 24 18.3L25.4 21L26.9 23.3L29.6 25.6L32.7 26.9L35.8 26.7L38.5 26L41 24.5V41H18L15 38.7L11.2 36.3L9 33.7L8.7 31L7.9 28.3L6.2 26Z" fill="url(#gb)"/></g></svg>
<span id="t83" class="t" style="left:994px;top:1342.3px;font-size:28.6px;line-height:36.6px;color:#fff;font-weight:400;letter-spacing:0.09px;-webkit-text-stroke:0.4px #fff;">Review graphics</span>
<div class="b" style="left:832px;top:1526px;width:2048px;height:52px;background:#2739dc"></div>
<div class="b" style="left:832px;top:1590px;width:2048px;height:52px;background:#2739dc"></div>
<div class="b" style="left:2672px;top:1514px;width:160px;height:80px;background:#2558f0;border-radius:16px;box-shadow:0 4px 14px rgba(20,30,90,.14)"></div>
<svg class="b" style="left:2702px;top:1542px" width="24" height="24" viewBox="0 0 24 24" fill="none" stroke="#fff" stroke-width="2.4" stroke-linecap="round"><path d="M12 1.5V22.5M1.5 12H22.5"/></svg>
<span id="t84" class="t" style="left:2743.5px;top:1536.3px;font-size:28.6px;line-height:36.6px;color:#fff;font-weight:400;letter-spacing:-0.67px;-webkit-text-stroke:1.0px #fff;">Task</span>
<!-- top -->
<div class="b" style="left:0;top:0;width:2880px;height:112px;background:#fff"></div>
<div class="b" style="left:0;top:114px;width:2880px;height:76px;background:#fff"></div>
<div class="b" style="left:0px;top:112px;width:2880px;height:2px;background:#e4e6ef"></div>
<svg class="b" style="left:50px;top:36px" width="44" height="40" viewBox="50 36 44 40" fill="none" stroke="#7a8097" stroke-width="3" stroke-linecap="round" stroke-linejoin="round"><path d="M57.5 45.3H70.5M57.5 56H70.5M57.5 66.6H70.5M79 48L87 56L79 64"/></svg>
<div class="b" style="left:144px;top:24px;width:64px;height:64px;background:#ea4747;border-radius:12px"></div>
<span id="t1" class="t" style="left:176px;top:34.4px;font-size:36.5px;line-height:44.5px;color:#fff;font-weight:700;transform:translateX(-50%);">D</span>
<span id="t2" class="t" style="left:241px;top:36.3px;font-size:32.6px;line-height:40.6px;color:#1d2033;font-weight:700;letter-spacing:-0.13px;">Digital Marketing Plan</span>
<svg class="b" style="left:594px;top:51px" width="16" height="10" viewBox="0 0 16 10"><path d="M1.5 1.5H14.5L8 9Z" fill="#7a8097" stroke="#7a8097" stroke-width="1" stroke-linejoin="round"/></svg>
<div class="b" style="left:656px;top:32px;width:2px;height:48px;background:#e4e6ef"></div>
<div class="b" style="left:814px;top:32px;width:2px;height:48px;background:#e4e6ef"></div>
<div class="b" style="left:1002px;top:32px;width:2px;height:48px;background:#e4e6ef"></div>
<div class="b" style="left:1185px;top:32px;width:2px;height:48px;background:#e4e6ef"></div>
<svg class="b" style="left:686px;top:40px" width="36" height="32" viewBox="686 40 36 32" fill="none" stroke="#7a8097" stroke-width="2.6" stroke-linecap="round"><circle cx="692.4" cy="45.8" r="2.2" fill="#7a8097" stroke="none"/><circle cx="692.4" cy="56" r="2.2" fill="#7a8097" stroke="none"/><circle cx="692.4" cy="66" r="2.2" fill="#7a8097" stroke="none"/><path d="M701 45.8H716.5M701 56H716.5M701 66H716.5"/></svg>
<span id="t3" class="t" style="left:735.5px;top:38.3px;font-size:28.6px;line-height:36.6px;color:#1d2033;font-weight:400;letter-spacing:0.33px;-webkit-text-stroke:1.1px #1d2033;">List</span>
<svg class="b" style="left:844px;top:40px" width="36" height="32" viewBox="844 40 36 32" fill="none" stroke="#7a8097" stroke-width="2.6"><rect x="849.6" y="45" width="10" height="21.6" rx="2"/><rect x="864.8" y="45" width="9.6" height="13.8" rx="2"/></svg>
<span id="t4" class="t" style="left:893px;top:38.3px;font-size:28.6px;line-height:36.6px;color:#1d2033;font-weight:400;letter-spacing:-0.20px;-webkit-text-stroke:1.1px #1d2033;">Board</span>
<div class="b" style="left:1020px;top:24px;width:149px;height:64px;background:#eef2fd;border-radius:8px"></div>
<svg class="b" style="left:1032px;top:40px" width="36" height="32" viewBox="1032 40 36 32" fill="none" stroke="#2b52ee" stroke-width="3" stroke-linecap="round"><path d="M1052 45.5H1062.5M1038 56H1054.5M1045 66.5H1062.5"/></svg>
<span id="t5" class="t" style="left:1080.5px;top:38.3px;font-size:28.6px;line-height:36.6px;color:#2b52ee;font-weight:400;letter-spacing:0.51px;-webkit-text-stroke:1.1px #2b52ee;">Gantt</span>
<svg class="b" style="left:1214px;top:40px" width="36" height="32" viewBox="1214 40 36 32" fill="none" stroke="#7a8097" stroke-width="2.6" stroke-linecap="round"><path d="M1232.6 43.5V68.5M1220 56H1245"/></svg>
<span id="t6" class="t" style="left:1264px;top:38.3px;font-size:28.6px;line-height:36.6px;color:#757b93;font-weight:400;letter-spacing:0.51px;-webkit-text-stroke:1.0px #757b93;">View</span>
<div class="b" style="left:0px;top:190px;width:2880px;height:2px;background:#e4e6ef"></div>
<svg class="b" style="left:44px;top:132px" width="36" height="36" viewBox="44 132 36 36" fill="none" stroke="#9aa2ba" stroke-width="2.6" stroke-linecap="round"><circle cx="60" cy="149" r="10.5"/><path d="M68 157.5L75 164"/></svg>
<span id="t7" class="t" style="left:93px;top:133.8px;font-size:28.6px;line-height:36.6px;color:#9ea5bc;font-weight:400;letter-spacing:-0.49px;-webkit-text-stroke:0.4px #9ea5bc;">Search ...</span>
<span id="t8" class="t" style="left:879px;top:136.1px;font-size:24.6px;line-height:32.6px;color:#757b94;font-weight:400;letter-spacing:-0.01px;-webkit-text-stroke:0.35px #757b94;">Today</span>
<div class="b" style="left:992px;top:127px;width:256px;height:47px;border:2px solid #e4e6ef;border-radius:9px;box-sizing:border-box;background:#fff"></div>
<span id="t9" class="t" style="left:1015px;top:136.1px;font-size:24.6px;line-height:32.6px;color:#757b94;font-weight:400;letter-spacing:0.18px;-webkit-text-stroke:0.35px #757b94;">View by day</span>
<svg class="b" style="left:1206px;top:142px" width="24" height="18" viewBox="1206 142 24 18" fill="none" stroke="#8a90a8" stroke-width="2.4" stroke-linecap="round" stroke-linejoin="round"><path d="M1211.5 147.5L1218.3 154.3L1225 147.5"/></svg>
<svg class="b" style="left:1844px;top:134px" width="32" height="34" viewBox="1844 134 32 34" fill="none" stroke="#7a8097" stroke-width="2.2" stroke-linejoin="round" stroke-linecap="round"><path d="M1860 140L1871.5 147L1860 154L1848.5 147Z"/><path d="M1848.5 151.5L1860 158.5L1871.5 151.5"/><path d="M1848.5 156L1860 163L1871.5 156"/></svg>
<span id="t10" class="t" style="left:1888px;top:135.1px;font-size:24.6px;line-height:32.6px;color:#757b94;font-weight:400;-webkit-text-stroke:0.35px #757b94;">Group By:</span>
<span id="t11" class="t" style="left:2014.4px;top:135.1px;font-size:24.6px;line-height:32.6px;color:#757b94;font-weight:400;letter-spacing:0.18px;-webkit-text-stroke:0.35px #757b94;">Task Status</span>
<span id="t12" class="t" style="left:2232.6px;top:135.1px;font-size:24.6px;line-height:32.6px;color:#757b94;font-weight:400;letter-spacing:0.44px;-webkit-text-stroke:0.35px #757b94;">Sort:</span>
<span id="t13" class="t" style="left:2301.5px;top:135.1px;font-size:24.6px;line-height:32.6px;color:#757b94;font-weight:400;letter-spacing:0.18px;-webkit-text-stroke:0.35px #757b94;">Task Number</span>
<span id="t14" class="t" style="left:2537.8px;top:135.1px;font-size:24.6px;line-height:32.6px;color:#757b94;font-weight:400;letter-spacing:0.25px;-webkit-text-stroke:0.35px #757b94;">Filter</span>
<span id="t15" class="t" style="left:2682.5px;top:135.1px;font-size:24.6px;line-height:32.6px;color:#757b94;font-weight:400;letter-spacing:-0.34px;-webkit-text-stroke:0.35px #757b94;">Show</span>
<svg class="b" style="left:2186px;top:134px" width="36" height="34" viewBox="2186 134 36 34" fill="none" stroke="#7a8097" stroke-width="2.2" stroke-linecap="round" stroke-linejoin="round"><path d="M2192 141H2215.5M2192 150.5H2205M2192 160H2201M2214.5 150V160.5L2210.5 157"/></svg>
<svg class="b" style="left:2492px;top:134px" width="32" height="34" viewBox="2492 134 32 34" fill="none" stroke="#7a8097" stroke-width="2.4" stroke-linejoin="round"><path d="M2499.5 141.5H2518L2511.2 150.8V159.5Q2511.2 161.5 2509 161.5H2508.5Q2506.4 161.5 2506.4 159.5V150.8Z"/></svg>
<svg class="b" style="left:2638px;top:138px" width="32" height="26" viewBox="2638 138 32 26" fill="none" stroke="#7a8097" stroke-width="2.2"><path d="M2643.4 151C2647 145.8 2650.5 144.4 2653.9 144.4C2657.3 144.4 2660.8 145.8 2664.4 151C2660.8 156.2 2657.3 157.6 2653.9 157.6C2650.5 157.6 2647 156.2 2643.4 151Z"/><circle cx="2653.9" cy="151" r="3.2"/></svg>
<div class="b" style="left:2791.5px;top:148.5px;width:5px;height:5px;background:#7a8097;border-radius:50%"></div>
<div class="b" style="left:2801.5px;top:148.5px;width:5px;height:5px;background:#7a8097;border-radius:50%"></div>
<div class="b" style="left:2811.5px;top:148.5px;width:5px;height:5px;background:#7a8097;border-radius:50%"></div>
<div class="b" style="left:0px;top:302px;width:2880px;height:2px;background:#e4e6ef"></div>
<div class="b" style="left:638px;top:192px;width:2px;height:1450px;background:#e4e6ef"></div>
<div class="b" style="left:830px;top:192px;width:2px;height:1450px;background:#e4e6ef"></div>
<span id="t16" class="t" style="left:48.8px;top:230.3px;font-size:28.6px;line-height:36.6px;color:#757b93;font-weight:400;letter-spacing:-0.40px;-webkit-text-stroke:0.4px #757b93;">Task</span>
<span id="t17" class="t" style="left:735px;top:230.3px;font-size:28.6px;line-height:36.6px;color:#757b93;font-weight:400;transform:translateX(-50%);-webkit-text-stroke:0.4px #757b93;">Progress</span>
<span id="t18" class="t" style="left:864.5px;top:208.3px;font-size:24.6px;line-height:32.6px;color:#757b93;font-weight:400;letter-spacing:0.50px;-webkit-text-stroke:0.4px #757b93;">Sept, 2022</span>
<span id="t19" class="t" style="left:1608px;top:208.3px;font-size:24.6px;line-height:32.6px;color:#757b93;font-weight:400;letter-spacing:0.79px;-webkit-text-stroke:0.4px #757b93;">Oct, 2022</span>
</body></html>
